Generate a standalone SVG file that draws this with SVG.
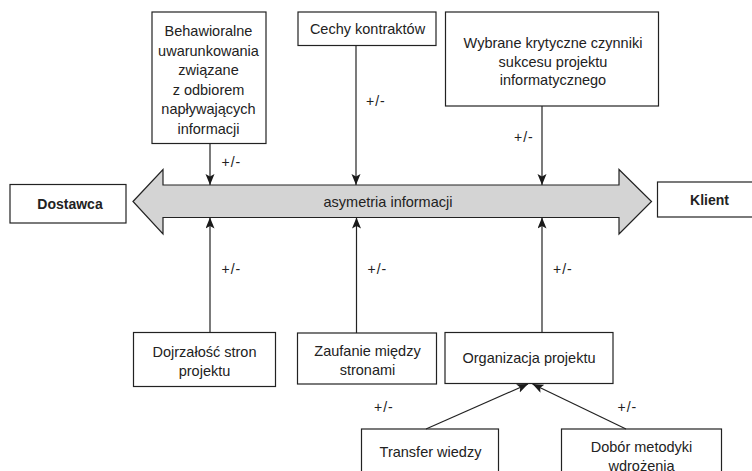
<svg xmlns="http://www.w3.org/2000/svg" width="752" height="471" viewBox="0 0 752 471">
<defs>
<marker id="ah" markerUnits="userSpaceOnUse" markerWidth="12" markerHeight="10" refX="11" refY="4.5" orient="auto">
<path d="M0,0 L11,4.5 L0,9 L2.5,4.5 Z" fill="#1a1a1a"/>
</marker>
<style>
.box{fill:#fff;stroke:#222;stroke-width:1.2}
.t{font-family:"Liberation Sans",Arial,sans-serif;font-size:14.5px;fill:#222;text-anchor:middle}
.b{font-weight:bold;font-size:14px}
.c{stroke:#222;stroke-width:1.2;fill:none;marker-end:url(#ah)}
.pm{font-family:"Liberation Sans",Arial,sans-serif;font-size:14px;fill:#222;letter-spacing:1px}
</style>
</defs>
<rect width="752" height="471" fill="#fff"/>
<g id="asymetria">
<polygon points="133,201.5 163,169.5 163,185 619,185 619,169.5 651.5,201.5 619,234 619,217.5 163,217.5 163,234" fill="#d4d4d4" stroke="#222" stroke-width="1.2" stroke-linejoin="miter"/>
<text class="t" x="388" y="206.5">asymetria informacji</text>
</g>
<g id="dostawca">
<rect class="box" x="10" y="184.5" width="116" height="38.5"/>
<text class="t b" x="70" y="209">Dostawca</text>
</g>
<g id="klient">
<rect class="box" x="657.5" y="182" width="96" height="35"/>
<text class="t b" x="709.5" y="204.5">Klient</text>
</g>
<g id="behawioralne">
<rect class="box" x="152" y="12" width="114" height="131.5"/>
<text class="t" x="208.5" y="36">Behawioralne</text>
<text class="t" x="208.5" y="55.5">uwarunkowania</text>
<text class="t" x="208.5" y="75">związane</text>
<text class="t" x="208.5" y="94.5">z odbiorem</text>
<text class="t" x="208.5" y="114">napływających</text>
<text class="t" x="208.5" y="133.5">informacji</text>
</g>
<g id="cechy">
<rect class="box" x="298" y="12" width="138" height="33.5"/>
<text class="t" x="367.5" y="33.5">Cechy kontraktów</text>
</g>
<g id="wybrane">
<rect class="box" x="445.5" y="12" width="213" height="94"/>
<text class="t" x="553" y="48">Wybrane krytyczne czynniki</text>
<text class="t" x="553" y="66.5">sukcesu projektu</text>
<text class="t" x="553" y="85">informatycznego</text>
</g>
<g id="dojrzalosc">
<rect class="box" x="133.5" y="332.5" width="142" height="54"/>
<text class="t" x="204.5" y="356.5">Dojrzałość stron</text>
<text class="t" x="204.5" y="376">projektu</text>
</g>
<g id="zaufanie">
<rect class="box" x="297.5" y="333" width="139" height="51"/>
<text class="t" x="367.5" y="355.5">Zaufanie między</text>
<text class="t" x="367.5" y="375">stronami</text>
</g>
<g id="organizacja">
<rect class="box" x="445" y="332.5" width="168" height="51"/>
<text class="t" x="529" y="363">Organizacja projektu</text>
</g>
<g id="transfer">
<rect class="box" x="361.5" y="429" width="137" height="50"/>
<text class="t" x="430.5" y="456.5">Transfer wiedzy</text>
</g>
<g id="dobor">
<rect class="box" x="561.5" y="429" width="160" height="50"/>
<text class="t" x="641.5" y="451.5">Dobór metodyki</text>
<text class="t" x="641.5" y="470.5">wdrożenia</text>
</g>
<g id="connectors">
<line class="c" x1="210" y1="143.5" x2="210" y2="185"/>
<line class="c" x1="356" y1="45.5" x2="356" y2="185"/>
<line class="c" x1="542" y1="106" x2="542" y2="185"/>
<line class="c" x1="210" y1="332.5" x2="210" y2="217.5"/>
<line class="c" x1="356.5" y1="333" x2="356.5" y2="217.5"/>
<line class="c" x1="542" y1="332.5" x2="542" y2="217.5"/>
<line class="c" x1="426" y1="429" x2="528" y2="384"/>
<line class="c" x1="626" y1="429" x2="532.5" y2="384"/>
<text class="pm" x="221.5" y="166.5">+/-</text>
<text class="pm" x="366" y="105.5">+/-</text>
<text class="pm" x="514" y="142">+/-</text>
<text class="pm" x="221.5" y="274">+/-</text>
<text class="pm" x="367.5" y="274">+/-</text>
<text class="pm" x="553" y="274">+/-</text>
<text class="pm" x="374" y="411.5">+/-</text>
<text class="pm" x="617.5" y="411.5">+/-</text>
</g>
</svg>
